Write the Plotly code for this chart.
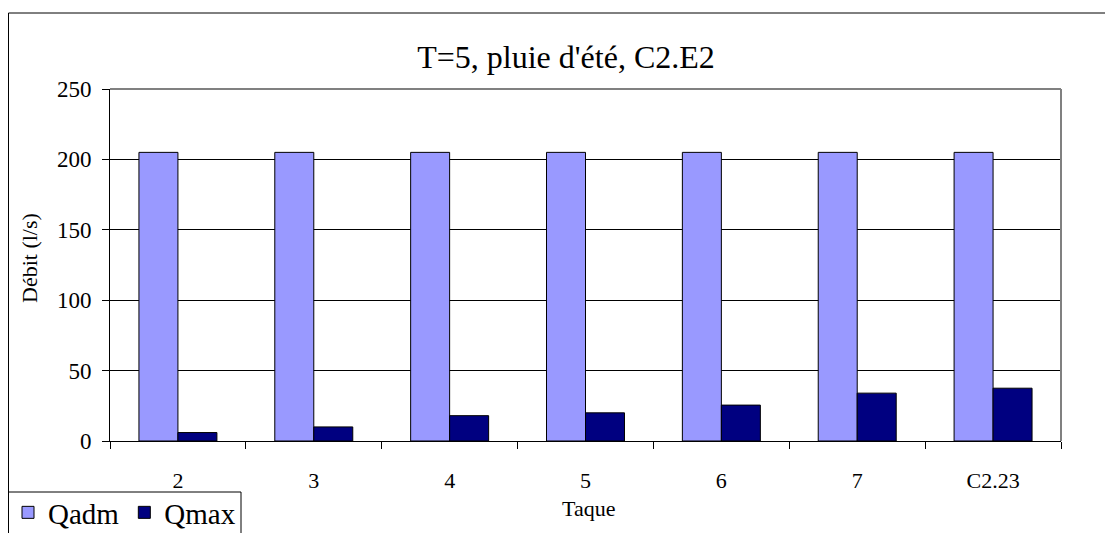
import plotly.graph_objects as go

categories = ["2", "3", "4", "5", "6", "7", "C2.23"]
qadm = [205, 205, 205, 205, 205, 205, 205]
qmax = [6, 10, 18, 20, 25.5, 34, 37.5]
y_ticks = [0, 50, 100, 150, 200, 250]

FONT = "Liberation Serif"

W, H = 1113, 533
# page body has an 8px margin, so figure coords = screen coords - 8
L, R, T, B = 102, 1053, 81, 433

fig = go.Figure()
fig.add_trace(go.Bar(name="Qadm", x=categories, y=qadm,
                     marker=dict(color="#9999FF", line=dict(color="#000000", width=1))))
fig.add_trace(go.Bar(name="Qmax", x=categories, y=qmax,
                     marker=dict(color="#000080", line=dict(color="#000000", width=1))))

def px(x):
    return (x - L) / (R - L)

def py(y):
    return (B - y) / (B - T)

fig.update_layout(
    width=W, height=H,
    margin=dict(l=L, r=W - R, t=T, b=H - B, pad=0, autoexpand=False),
    paper_bgcolor="white", plot_bgcolor="white",
    font=dict(family=FONT, color="black", size=22),
    barmode="group", bargap=0.426, bargroupgap=0,
    title=dict(text="T=5, pluie d'été, C2.E2", font=dict(size=32, family=FONT, color="black"),
               x=558 / W, xanchor="center", xref="container",
               y=1 - 49 / H, yanchor="middle", yref="container"),
    showlegend=True,
    legend=dict(orientation="h", xref="container", yref="container",
                x=-10 / W, xanchor="left", y=1 - 479 / H, yanchor="top",
                borderwidth=0, bgcolor="rgba(0,0,0,0)",
                font=dict(size=29, family=FONT, color="black"),
                tracegroupgap=0),
    xaxis=dict(showline=True, linecolor="black", linewidth=1,
               ticks="outside", ticklen=7, tickcolor="black", tickson="boundaries",
               tickfont=dict(size=22, family=FONT), showgrid=False, ticklabelstandoff=20,
               automargin=False),
    yaxis=dict(range=[0, 250], tickvals=y_ticks,
               showline=True, linecolor="black", linewidth=1,
               ticks="outside", ticklen=7, tickcolor="black",
               tickfont=dict(size=23, family=FONT), showgrid=True, gridcolor="#000000", gridwidth=1,
               zeroline=False, ticklabelstandoff=6, automargin=False),
    annotations=[
        dict(text="Taque", xref="paper", yref="paper", x=px(580.5), y=py(500),
             xanchor="center", yanchor="middle", showarrow=False,
             font=dict(size=22, family=FONT, color="black")),
        dict(text="Débit (l/s)", xref="paper", yref="paper", x=px(21), y=py(250),
             xanchor="center", yanchor="middle", showarrow=False, textangle=-90,
             font=dict(size=22, family=FONT, color="black")),
    ],
    shapes=[
        # outer chart border
        dict(type="rect", xref="paper", yref="paper",
             x0=px(0.5), x1=px(1130), y0=py(5), y1=py(560),
             line=dict(color="black", width=1), fillcolor="rgba(0,0,0,0)", layer="below"),
        # legend box
        dict(type="rect", xref="paper", yref="paper",
             x0=px(0.5), x1=px(233), y0=py(484), y1=py(560),
             line=dict(color="black", width=1), fillcolor="white", layer="below"),
        # plot area border (top & right gray)
        dict(type="line", xref="paper", yref="paper", x0=0, x1=1, y0=1, y1=1,
             line=dict(color="#808080", width=2)),
        dict(type="line", xref="paper", yref="paper", x0=1, x1=1, y0=0, y1=1,
             line=dict(color="#808080", width=2)),
    ],
)

fig.write_html("out.html")
